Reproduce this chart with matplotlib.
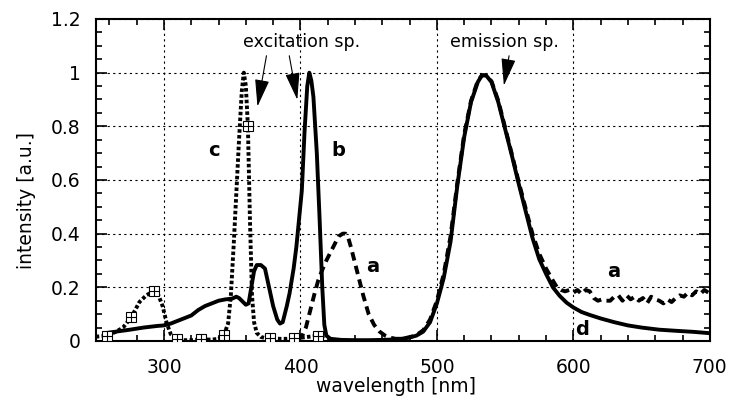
import numpy as np
import matplotlib
matplotlib.use('Agg')
import matplotlib.pyplot as plt
from matplotlib.ticker import MultipleLocator

plt.rcParams['font.family'] = ['DejaVu Sans']

# curve a (dashed): excitation 430 nm band + emission with noisy tail
a_wl = [398, 401, 404, 407, 410, 413, 416, 419, 422, 425, 428, 431, 433, 435, 437,
        440, 443, 446, 450, 454, 458, 462, 466, 470, 475, 480, 485, 490, 495, 500,
        505, 510, 515, 520, 525, 530, 533, 536, 540, 545, 550, 555, 560, 565, 570,
        575, 580, 585, 588,
        591, 594, 597, 600, 603, 606, 609, 612, 615, 618, 621, 624, 627, 630, 633,
        636, 639, 642, 645, 648, 651, 654, 657, 660, 663, 666, 669, 672, 675, 678,
        681, 684, 687, 690, 693, 696, 699, 700]
a_int = [0.005, 0.016, 0.05, 0.11, 0.17, 0.225, 0.265, 0.3, 0.33, 0.36, 0.39, 0.4, 0.4, 0.385, 0.35,
         0.29, 0.23, 0.17, 0.1, 0.06, 0.035, 0.02, 0.012, 0.008, 0.009, 0.014, 0.022, 0.04, 0.08, 0.15,
         0.25, 0.39, 0.59, 0.77, 0.895, 0.97, 0.99, 0.99, 0.968, 0.895, 0.795, 0.695, 0.592, 0.495, 0.4,
         0.325, 0.27, 0.225, 0.2,
         0.19, 0.185, 0.19, 0.18, 0.19, 0.175, 0.19, 0.185, 0.16, 0.15, 0.155, 0.15, 0.15, 0.165, 0.17,
         0.15, 0.17, 0.155, 0.165, 0.15, 0.16, 0.14, 0.165, 0.155, 0.15, 0.14, 0.155, 0.145, 0.16, 0.17,
         0.165, 0.18, 0.17, 0.185, 0.175, 0.19, 0.18, 0.195]

# curve b (solid): excitation spectrum
b_wl = [258, 265, 275, 285, 295, 300, 305, 310, 315, 320, 325, 330, 335, 340, 345,
        350, 353, 355, 358, 360, 362, 364, 366, 368, 371, 374, 377, 380, 383, 385,
        387, 390, 392, 395, 397, 401, 403, 405, 406.5, 408, 409.5, 412, 414, 416,
        417.5, 419, 422]
b_int = [0.03, 0.035, 0.042, 0.05, 0.056, 0.058, 0.065, 0.075, 0.085, 0.095, 0.115, 0.13, 0.14, 0.15, 0.155,
         0.158, 0.165, 0.16, 0.145, 0.135, 0.14, 0.2, 0.26, 0.283, 0.283, 0.27, 0.2, 0.13, 0.08, 0.065,
         0.07, 0.13, 0.177, 0.27, 0.35, 0.56, 0.78, 0.95, 1.0, 0.97, 0.91, 0.7, 0.46, 0.2,
         0.06, 0.02, 0.008]

# curve c (dotted, with markers): excitation spectrum
c_wl = [250, 258.5, 265, 270, 276, 282, 287, 292.5, 296, 299, 302, 305, 309.5, 315, 320,
        327, 335, 340, 344, 347, 349, 351, 353, 355, 357, 358.5, 360, 361.5, 363, 364.5,
        366, 368, 371, 375, 378, 385, 390, 395.5, 400, 405, 410, 413, 418]
c_int = [0.016, 0.02, 0.035, 0.05, 0.088, 0.145, 0.17, 0.186, 0.17, 0.13, 0.066, 0.025, 0.006, 0.003, 0.003,
         0.006, 0.005, 0.008, 0.022, 0.066, 0.17, 0.35, 0.55, 0.75, 0.93, 1.0, 0.95, 0.8, 0.45, 0.17,
         0.07, 0.03, 0.015, 0.01, 0.01, 0.008, 0.008, 0.01, 0.012, 0.015, 0.018, 0.019, 0.018]
c_marks = [1, 4, 7, 12, 15, 18, 27, 34, 37, 41]

# curve d (solid): emission spectrum
d_wl = [422, 430, 440, 450, 460, 470, 475, 480, 485, 490, 495, 500, 505, 510, 515,
        520, 525, 530, 533, 536, 540, 545, 550, 555, 560, 565, 570, 575, 580, 585,
        590, 595, 600, 606, 612, 620, 630, 640, 650, 663, 675, 688, 700]
d_int = [0.008, 0.004, 0.003, 0.003, 0.004, 0.006, 0.009, 0.013, 0.02, 0.035, 0.07, 0.14, 0.235, 0.37, 0.58,
         0.76, 0.89, 0.965, 0.99, 0.99, 0.965, 0.89, 0.79, 0.69, 0.585, 0.485, 0.385, 0.305, 0.25, 0.2,
         0.168, 0.143, 0.125, 0.108, 0.097, 0.084, 0.07, 0.058, 0.05, 0.042, 0.038, 0.034, 0.029]

fig = plt.figure(figsize=(7.31, 4.04), dpi=100)
ax = fig.add_axes([0.131, 0.156, 0.840, 0.797])

lw = 2.8
ax.plot(c_wl, c_int, color='k', lw=lw, linestyle=(0, (0.9, 0.6)), dash_capstyle='butt', zorder=3)
ax.plot(a_wl, a_int, color='k', lw=lw, linestyle=(0, (2.2, 1.4)), zorder=3)
ax.plot(b_wl, b_int, color='k', lw=lw, solid_joinstyle='round', zorder=4)
ax.plot(d_wl, d_int, color='k', lw=lw, solid_joinstyle='round', zorder=4)
mx = [c_wl[i] for i in c_marks]
my = [c_int[i] for i in c_marks]
ax.plot(mx, my, linestyle='none', marker='s', ms=7, mfc='white', mec='k', mew=0.8, zorder=5)
ax.plot(mx, my, linestyle='none', marker='+', ms=7, mec='k', mew=0.8, zorder=6)

ax.set_xlim(250, 700)
ax.set_ylim(0, 1.2)
ax.xaxis.set_major_locator(MultipleLocator(100))
ax.xaxis.set_minor_locator(MultipleLocator(20))
ax.yaxis.set_major_locator(MultipleLocator(0.2))
ax.yaxis.set_minor_locator(MultipleLocator(0.05))
ax.yaxis.set_major_formatter(plt.FuncFormatter(lambda v, p: '%g' % round(v, 2)))
ax.tick_params(which='both', direction='in', top=True, right=True, width=1.2, labelsize=13.5)
ax.tick_params(which='major', length=8)
ax.tick_params(which='minor', length=4)
ax.tick_params(axis='y', pad=11)
ax.tick_params(axis='x', pad=12)
for s in ax.spines.values():
    s.set_linewidth(1.5)
ax.grid(True, which='major', color='k', lw=0.8, linestyle=(0, (2, 3)))
ax.set_axisbelow(True)

ax.set_xlabel('wavelength [nm]', fontsize=13.5)
ax.xaxis.set_label_coords(0.489, -0.158)
ax.xaxis.label.set_va('baseline')
ax.set_ylabel('intensity [a.u.]', fontsize=13.5)
ax.yaxis.set_label_coords(-0.113, 0.435)
ax.yaxis.label.set_va('center')

for txt, x, y in [('c', 332, 0.691), ('b', 422.8, 0.691), ('a', 448.5, 0.258),
                  ('a', 624.8, 0.239), ('d', 601, 0.022)]:
    ax.text(x, y, txt, fontsize=14, fontweight='bold', ha='left', va='baseline', zorder=7)

ax.text(357.6, 1.094, 'excitation sp.', fontsize=12.5, ha='left', va='baseline')
ax.text(509.5, 1.094, 'emission sp.', fontsize=12.5, ha='left', va='baseline')

aprops = dict(arrowstyle='-|>,head_length=1.7,head_width=0.45', mutation_scale=10,
              lw=0.8, color='k', shrinkA=0, shrinkB=0)
ax.annotate('', xy=(368.5, 0.874), xytext=(375.1, 1.063), arrowprops=aprops)
ax.annotate('', xy=(397.7, 0.899), xytext=(391.8, 1.063), arrowprops=aprops)
ax.annotate('', xy=(549.1, 0.952), xytext=(552.9, 1.063), arrowprops=aprops)

fig.savefig('out.png', dpi=100)
